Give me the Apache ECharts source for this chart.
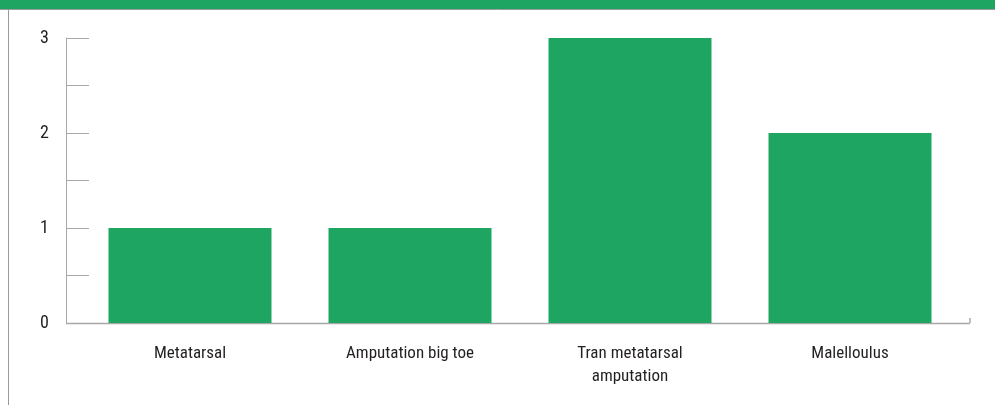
<!DOCTYPE html>
<html>
<head>
<meta charset="utf-8">
<script src="https://cdn.jsdelivr.net/npm/echarts@6/dist/echarts.min.js"></script>
<style>
  html, body { margin: 0; padding: 0; background: #fff; }
  #main { width: 995px; height: 405px; }
</style>
</head>
<body>
<div id="main"></div>
<script>
var chart = echarts.init(document.getElementById('main'));

var categories = ['Metatarsal', 'Amputation big toe', 'Tran metatarsal\namputation', 'Malelloulus'];
var counts = [1, 1, 3, 2];
var yTicks = [0, 0.5, 1, 1.5, 2, 2.5, 3];

var font = '"Liberation Sans Narrow", "Roboto Condensed", Roboto, sans-serif';

option = {
    animation: false,
    grid: {
        left: 80,
        right: 35,
        top: 38,
        bottom: 82
    },
    xAxis: {
        type: 'category',
        data: categories,
        axisLine: { show: false },
        axisTick: { show: false },
        axisLabel: {
            color: '#231f20',
            fontFamily: font,
            fontSize: 17,
            margin: 19,
            lineHeight: 23
        }
    },
    yAxis: {
        type: 'value',
        min: yTicks[0],
        max: yTicks[yTicks.length - 1],
        interval: 0.5,
        offset: 14,
        splitLine: { show: false },
        axisLine: { show: true, lineStyle: { color: '#a8a8a8', width: 1 } },
        axisTick: { show: true, inside: true, length: 23, lineStyle: { color: '#a8a8a8' } },
        axisLabel: {
            color: '#231f20',
            fontFamily: font,
            fontSize: 18,
            margin: 17,
            formatter: function (v) {
                return v % 1 === 0 ? String(v) : '';
            }
        }
    },
    graphic: [
        { type: 'rect', left: 0, top: 0, shape: { width: 995, height: 9 }, style: { fill: '#1ea562' } },
        { type: 'line', shape: { x1: 0, y1: 9.5, x2: 995, y2: 9.5 }, style: { stroke: '#9a9a9a', lineWidth: 1 } },
        { type: 'line', shape: { x1: 8.5, y1: 10, x2: 8.5, y2: 405 }, style: { stroke: '#9a9a9a', lineWidth: 1 } },
        { type: 'line', z: 0, shape: { x1: 66, y1: 323.5, x2: 970, y2: 323.5 }, style: { stroke: '#a8a8a8', lineWidth: 1.5 } },
        { type: 'line', shape: { x1: 970, y1: 318, x2: 970, y2: 323 }, style: { stroke: '#a8a8a8', lineWidth: 1.5 } }
    ],
    series: [{
        type: 'bar',
        data: counts,
        barWidth: 163,
        itemStyle: { color: '#1ea562' }
    }]
};

chart.setOption(option);
</script>
</body>
</html>
